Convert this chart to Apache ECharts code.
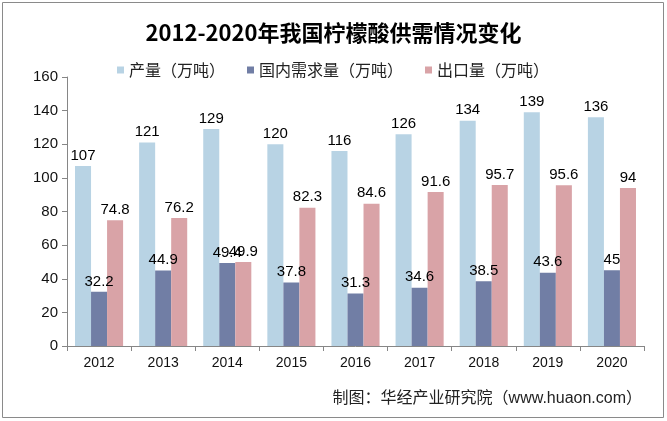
<!DOCTYPE html>
<html><head><meta charset="utf-8">
<script src="https://cdn.jsdelivr.net/npm/echarts@6/dist/echarts.min.js"></script>
<style>html,body{margin:0;padding:0;background:#fff}#c{width:667px;height:421px}</style>
</head><body><div id="c"></div>
<script>
var categories = ['2012','2013','2014','2015','2016','2017','2018','2019','2020'];
var production = [107,121,129,120,116,126,134,139,136];
var domestic = [32.2,44.9,49.4,37.8,31.3,34.6,38.5,43.6,45];
var exports = [74.8,76.2,49.9,82.3,84.6,91.6,95.7,95.6,94];
var seriesNames = ['产量（万吨）','国内需求量（万吨）','出口量（万吨）'];
var colors = ['#b8d3e4','#717ea5','#d9a3a7'];
var chart = echarts.init(document.getElementById('c'));
var lbl = {show:true, position:'top', distance:3, color:'#000', fontSize:15, fontFamily:'Liberation Sans, Arial'};
chart.setOption({
  animation:false,
  title:{text:'2012-2020年我国柠檬酸供需情况变化', left:'center', top:17,
    textStyle:{fontSize:22, fontWeight:'bold', color:'#000', fontFamily:'Noto Sans CJK SC'}},
  legend:{data:seriesNames, top:57, left:112, itemWidth:7, itemHeight:7, itemGap:22,
    icon:'rect', textStyle:{fontSize:16, color:'#222', fontFamily:'Noto Sans CJK SC'}},
  grid:{left:67, right:23, top:77, bottom:75},
  xAxis:{type:'category', data:categories,
    axisLine:{lineStyle:{color:'#868686'}},
    axisTick:{show:true, alignWithLabel:false, length:5, lineStyle:{color:'#868686'}},
    axisLabel:{color:'#111', fontSize:14, margin:10, fontFamily:'Liberation Sans, Arial'}},
  yAxis:{type:'value', min:0, max:160, interval:20,
    axisLine:{show:true, lineStyle:{color:'#868686'}},
    axisTick:{show:true, length:5, lineStyle:{color:'#868686'}},
    splitLine:{show:false},
    axisLabel:{color:'#111', fontSize:15, margin:9, fontFamily:'Liberation Sans, Arial'}},
  series:[
    {name:seriesNames[0], type:'bar', data:production, itemStyle:{color:colors[0]}, barGap:'0%', barCategoryGap:'25%', label:lbl},
    {name:seriesNames[1], type:'bar', data:domestic, itemStyle:{color:colors[1]}, barGap:'0%', barCategoryGap:'25%', label:lbl},
    {name:seriesNames[2], type:'bar', data:exports, itemStyle:{color:colors[2]}, barGap:'0%', barCategoryGap:'25%', label:lbl}
  ],
  graphic:[
    {type:'rect', shape:{x:2.5, y:2.5, width:661, height:415}, style:{fill:'none', stroke:'#8a8a8a', lineWidth:1}, silent:true, z:-1},
    {type:'text', right:25, top:391, style:{text:'制图：华经产业研究院（www.huaon.com）', fontSize:16, fill:'#222', fontFamily:'Liberation Sans, Noto Sans CJK SC'}}
  ]
});
</script></body></html>
